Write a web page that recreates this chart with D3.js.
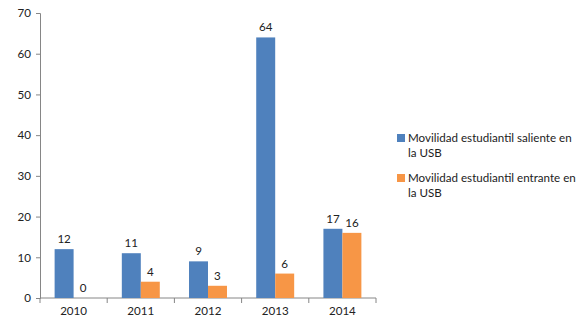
<!DOCTYPE html>
<html>
<head>
<meta charset="utf-8">
<script src="https://cdn.jsdelivr.net/npm/d3@7/dist/d3.min.js"></script>
<style>
  body { margin: 0; background: #fff; }
  svg { display: block; font-family: Lato, "Open Sans", sans-serif; }
</style>
</head>
<body>
<svg id="chart" width="580" height="321"></svg>
<script>
// Student mobility at USB, per year
const years = ["2010", "2011", "2012", "2013", "2014"];
const seriesNames = [
  "Movilidad estudiantil saliente en la USB",
  "Movilidad estudiantil entrante en la USB"
];
const saliente = [12, 11, 9, 64, 17];
const entrante = [0, 4, 3, 6, 16];
const yTicks = [0, 10, 20, 30, 40, 50, 60, 70];
const colors = ["#4F81BD", "#F79646"];

const svg = d3.select("#chart");
const plot = { left: 40, right: 376, top: 13, bottom: 298 };
const axisColor = "#868686";
const fontSize = "11.6px";

const x0 = d3.scaleBand().domain(years).range([plot.left, plot.right]).padding(0);
const x1 = d3.scaleBand().domain([0, 1]).range([0, x0.bandwidth()])
  .paddingInner(0).paddingOuter(0.77);
const y = d3.scaleLinear().domain([0, 70]).range([plot.bottom, plot.top]);

// y axis
const yAxis = svg.append("g").attr("transform", `translate(${plot.left},0)`)
  .call(d3.axisLeft(y).tickValues(yTicks).tickSize(4).tickPadding(5));
yAxis.select(".domain").attr("stroke", axisColor);
yAxis.selectAll(".tick line").attr("stroke", axisColor);
yAxis.selectAll(".tick text").attr("fill", "#222").style("font-size", fontSize)
  .style("font-family", "Lato, 'Open Sans', sans-serif");

// x axis with ticks on category boundaries
const xg = svg.append("g").attr("transform", `translate(0,${plot.bottom})`);
xg.append("line").attr("x1", plot.left).attr("x2", plot.right).attr("stroke", axisColor);
const bounds = years.map(d => x0(d)).concat([plot.right]);
xg.selectAll("line.tk").data(bounds).join("line").attr("class", "tk")
  .attr("x1", d => d).attr("x2", d => d).attr("y1", 0).attr("y2", 5)
  .attr("stroke", axisColor);
xg.selectAll("text").data(years).join("text")
  .attr("x", d => x0(d) + x0.bandwidth() / 2).attr("y", 17)
  .attr("text-anchor", "middle").attr("fill", "#222").style("font-size", fontSize)
  .text(d => d);

// bars and value labels
const rows = years.map((yr, i) => ({ yr, vals: [saliente[i], entrante[i]] }));
const groups = svg.append("g").selectAll("g").data(rows).join("g")
  .attr("transform", d => `translate(${x0(d.yr)},0)`);
groups.selectAll("rect").data(d => d.vals.map((v, s) => ({ v, s }))).join("rect")
  .attr("x", d => x1(d.s)).attr("width", x1.bandwidth())
  .attr("y", d => y(d.v)).attr("height", d => y(0) - y(d.v))
  .attr("fill", d => colors[d.s]);
groups.selectAll("text").data(d => d.vals.map((v, s) => ({ v, s }))).join("text")
  .attr("x", d => x1(d.s) + x1.bandwidth() / 2).attr("y", d => y(d.v) - 6)
  .attr("text-anchor", "middle").attr("fill", "#222").style("font-size", fontSize)
  .text(d => d.v);

// legend
const legend = svg.append("g").attr("transform", "translate(397,0)");
const legendLines = [["Movilidad estudiantil saliente en", "la USB"],
                     ["Movilidad estudiantil entrante en", "la USB"]];
legendLines.forEach((lines, i) => {
  const cy = 138 + i * 40;
  legend.append("rect").attr("x", 0).attr("y", cy - 4).attr("width", 8).attr("height", 8)
    .attr("fill", colors[i]);
  legend.append("text").attr("x", 11).attr("y", cy + 4).attr("fill", "#222")
    .style("font-size", fontSize).text(lines[0]);
  legend.append("text").attr("x", 11).attr("y", cy + 19).attr("fill", "#222")
    .style("font-size", fontSize).text(lines[1]);
});
</script>
</body>
</html>
